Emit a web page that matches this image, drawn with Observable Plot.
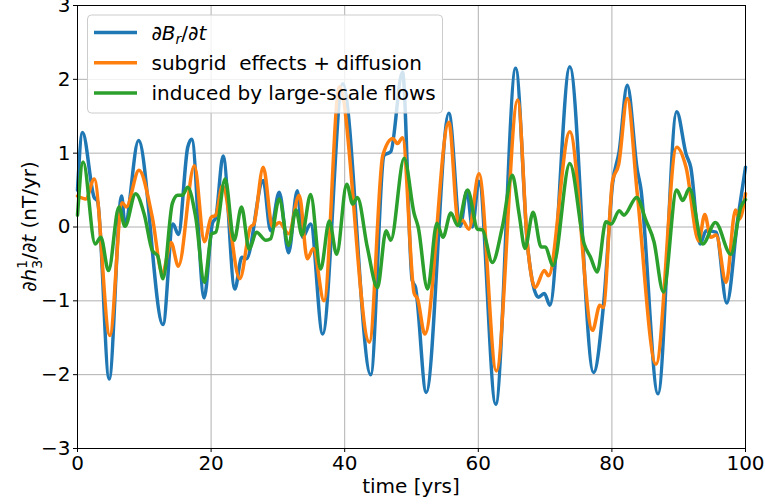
<!DOCTYPE html>
<html><head><meta charset="utf-8">
<script src="https://cdn.jsdelivr.net/npm/d3@7"></script>
<script src="https://cdn.jsdelivr.net/npm/@observablehq/plot@0.6"></script>
<style>body{margin:0;background:#fff;} svg text{font-family:"DejaVu Sans";}</style>
</head><body><div id="chart"></div>
<script>
const seriesNames = ["∂Br/∂t", "subgrid  effects + diffusion", "induced by large-scale flows"];
const seriesColors = ["#1f77b4", "#ff7f0e", "#2ca02c"];
const xTicks = [0, 20, 40, 60, 80, 100];
const yTicks = [-3, -2, -1, 0, 1, 2, 3];
const xLabel = "time [yrs]";

const blueT = [0, 0.75, 2.5, 3.0, 4.74, 6.6, 7.1, 9.13, 12.8, 14.3, 15.1, 16.5, 17.1, 18.96, 20.2, 20.7, 21.8, 23.55, 24.6, 25.3, 27.8, 28.9, 30.2, 31.6, 32.9, 33.7, 34.9, 36.7, 39.7, 43.9, 45.9, 46.9, 48.65, 50.1, 50.6, 52.2, 55.6, 57.3, 58.3, 59.1, 60.1, 62.6, 65.6, 67.4, 69.0, 69.9, 70.7, 73.7, 77.25, 78.8, 80.1, 81.1, 82.3, 83.8, 84.3, 86.9, 89.7, 91.1, 91.8, 93.2, 94.1, 95.6, 97.2, 98.8, 100];
const blueV = [0.5, 1.28, 0.40, 0.35, -2.06, 0.42, 0.04, 1.17, -1.32, 0.04, -0.1, 1.08, 1.19, -0.96, 0.05, 0.13, 0.96, -0.84, -0.41, -0.43, 0.63, -0.05, 0.47, -0.35, 0.49, -0.14, 0.04, -1.45, 1.94, -2.0, 0.97, 1.02, 2.10, -0.72, -0.82, -2.24, 1.54, 0.01, 0.49, 0.0, 0.62, -2.40, 2.15, -0.28, -0.95, -0.90, -1.06, 2.17, -1.97, -1.0, 0.59, 1.03, 1.92, 0.77, 0.54, -2.26, 1.56, 0.99, 0.81, -0.23, -0.05, -0.07, -1.03, 0.08, 0.81];

const orangeT = [0, 1.25, 2.5, 4.84, 6.7, 7.3, 9.2, 11.2, 12.7, 14.0, 15.1, 17.5, 19.0, 20.0, 20.7, 21.7, 24.3, 25.9, 26.4, 27.8, 29.2, 30.2, 31.6, 33.2, 34.4, 35.3, 36.9, 39.2, 43.7, 45.7, 47.2, 47.9, 48.65, 50.4, 50.9, 52.0, 55.6, 57.0, 57.6, 58.6, 60.1, 62.7, 65.9, 67.4, 68.5, 69.9, 70.5, 73.7, 77.1, 78.2, 78.7, 80.1, 81.0, 82.3, 83.8, 86.6, 89.7, 91.1, 93.0, 93.9, 94.8, 95.6, 97.1, 98.5, 99.1, 100];
const orangeV = [0.42, 0.38, 0.65, -1.47, 0.33, 0.27, 0.77, 0.13, -0.63, -0.21, -0.53, 0.83, -0.2, 0.13, 0.16, 0.56, -0.70, 0.0, 0.04, 0.81, 0.0, 0.06, -0.09, 0.43, -0.43, -0.29, -1.0, 1.90, -1.56, 0.97, 1.2, 1.13, 1.21, -0.9, -0.97, -1.45, 1.42, 0.07, 0.09, -0.03, 0.72, -1.95, 1.72, -0.28, -0.82, -0.59, -0.66, 1.29, -1.40, -1.06, -1.09, 0.63, 0.84, 1.74, 0.45, -1.86, 1.08, 0.81, -0.19, 0.17, -0.14, -0.11, -0.75, 0.23, 0.11, 0.45];

const greenT = [0, 0.85, 2.65, 3.5, 4.64, 6.2, 7.1, 8.7, 10.0, 11.2, 12.0, 12.8, 14.2, 15.0, 15.7, 16.5, 17.7, 19.0, 20.1, 20.7, 22.1, 23.45, 24.55, 25.7, 26.8, 28.2, 28.9, 30.2, 31.6, 32.7, 33.6, 34.9, 36.4, 37.7, 38.8, 40.3, 41.2, 41.9, 43.4, 44.9, 46.2, 46.9, 48.9, 50.4, 51.0, 52.4, 53.8, 54.7, 55.9, 56.9, 58.4, 59.9, 60.6, 62.1, 63.6, 65.1, 66.1, 67.0, 68.2, 69.4, 70.0, 71.2, 73.7, 75.85, 76.8, 77.8, 79.1, 79.9, 81.1, 81.8, 83.7, 85.1, 86.3, 87.7, 89.7, 90.6, 91.6, 93.6, 95.5, 97.8, 99.3, 100];
const greenV = [0.16, 0.88, -0.23, -0.14, -0.59, 0.27, 0.01, 0.45, 0.17, -0.32, -0.39, -0.70, 0.32, 0.43, 0.43, 0.54, 0.13, -0.75, -0.09, -0.07, 0.65, -0.18, 0.27, -0.30, -0.07, -0.18, -0.16, 0.38, -0.25, 0.23, -0.11, 0.44, -0.57, 0.08, -0.37, 0.58, 0.31, 0.40, -0.28, -0.82, -0.05, -0.18, 0.93, 0.18, 0.0, -0.84, 0.05, -0.14, 0.19, 0.02, 0.50, -0.03, -0.04, -0.48, 0.0, 0.70, 0.18, -0.29, 0.2, -0.27, -0.27, -0.52, 0.86, -0.23, -0.41, -0.61, 0.07, 0.04, 0.22, 0.16, 0.4, 0.09, -0.2, -0.88, 0.5, 0.36, 0.52, -0.23, 0.06, -0.37, 0.27, 0.37];

const rows = [];
[[blueT, blueV], [orangeT, orangeV], [greenT, greenV]].forEach(([ts, vs], i) =>
  ts.forEach((t, j) => rows.push({t, v: vs[j], s: seriesNames[i]})));

const W = 765, H = 504, mL = 77, mR = 20, mT = 5, mB = 56;
const minus = d => d < 0 ? "\u2212" + Math.abs(d) : String(d);

const chart = Plot.plot({
  width: W, height: H,
  marginLeft: mL, marginRight: mR, marginTop: mT, marginBottom: mB,
  style: {fontFamily: "DejaVu Sans", fontSize: "20px", color: "#000", background: "#fff", overflow: "visible"},
  x: {domain: [0, 100], label: null},
  y: {domain: [-3, 3], label: null},
  color: {domain: seriesNames, range: seriesColors},
  marks: [
    Plot.gridX(xTicks, {stroke: "#b0b0b0", strokeOpacity: 1, strokeWidth: 1}),
    Plot.gridY(yTicks, {stroke: "#b0b0b0", strokeOpacity: 1, strokeWidth: 1}),
    Plot.line(rows, {x: "t", y: "v", z: "s", stroke: "s", strokeWidth: 3.5, curve: "monotone-x"}),
    Plot.frame({stroke: "#000", strokeWidth: 1}),
    Plot.axisX(xTicks, {tickSize: 4, tickPadding: 3, fontSize: 20, label: null, tickFormat: d => String(d)}),
    Plot.axisY(yTicks, {tickSize: 4, tickPadding: 3, fontSize: 20, label: null, tickFormat: minus})
  ]
});
document.getElementById("chart").appendChild(chart);

const svg = d3.select(chart);
// x label
svg.append("text").attr("x", mL + (W - mL - mR) / 2).attr("y", 493)
  .attr("text-anchor", "middle").attr("fill", "#000").style("font-size", "20px").text(xLabel);

// y label: ∂h_3^1/∂t (nT/yr)
const yl = svg.append("text")
  .attr("transform", `translate(36,${mT + (H - mT - mB) / 2}) rotate(-90)`)
  .attr("text-anchor", "middle").attr("fill", "#000").style("font-size", "20px");
yl.append("tspan").text("∂");
yl.append("tspan").attr("font-style", "italic").text("h");
yl.append("tspan").style("font-size", "14px").attr("dy", -9).text("1");
yl.append("tspan").style("font-size", "14px").attr("dx", -8.9).attr("dy", 15).text("3");
yl.append("tspan").attr("dy", -6).text("/∂");
yl.append("tspan").attr("font-style", "italic").text("t");
yl.append("tspan").text(" (nT/yr)");

// legend
const lg = svg.append("g").attr("text-anchor", "start");
lg.append("rect").attr("x", 87.5).attr("y", 15).attr("width", 355).attr("height", 98).attr("rx", 4)
  .attr("fill", "#fff").attr("fill-opacity", 0.8).attr("stroke", "#cccccc").attr("stroke-width", 1);
seriesNames.forEach((name, i) => {
  const yy = 32.5 + 30.2 * i;
  lg.append("line").attr("x1", 94).attr("x2", 137).attr("y1", yy).attr("y2", yy)
    .attr("stroke", seriesColors[i]).attr("stroke-width", 3.5);
  const t = lg.append("text").attr("x", 151.5).attr("y", yy).attr("dy", "0.35em")
    .attr("text-anchor", "start")
    .attr("fill", "#000").style("font-size", "20px").style("white-space", "pre");
  if (i === 0) {
    t.append("tspan").text("∂");
    t.append("tspan").attr("font-style", "italic").text("B");
    t.append("tspan").attr("font-style", "italic").style("font-size", "14px").attr("dy", 4).text("r");
    t.append("tspan").attr("dy", -4).text("/∂");
    t.append("tspan").attr("font-style", "italic").text("t");
  } else {
    t.text(name);
  }
});
</script>
</body></html>
